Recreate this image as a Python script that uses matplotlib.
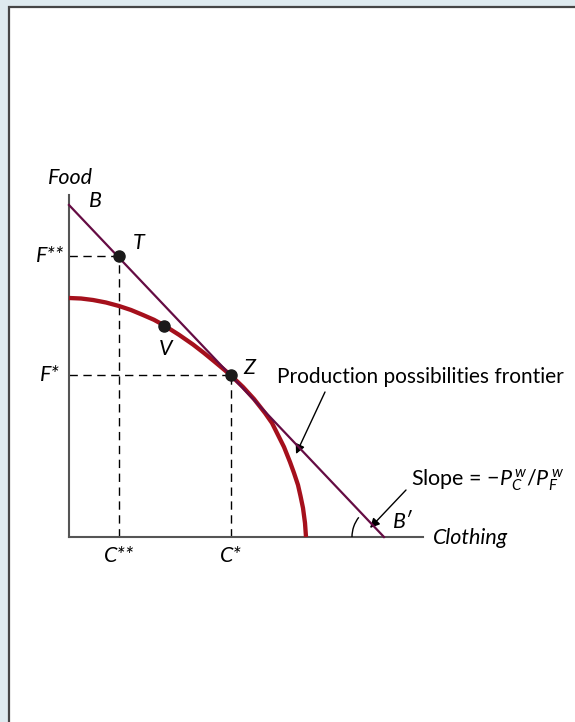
import matplotlib.pyplot as plt
from matplotlib.patches import Rectangle, Arc

# production possibilities frontier
ppf_clothing = [0.0, 1.2, 2.4, 3.7, 5.0, 6.2, 7.4, 8.5, 9.5, 11.0, 12.4, 13.5, 14.5, 15.4,
                16.2, 17.4, 18.5, 19.6, 20.3, 20.9, 21.5, 22.1, 22.5, 22.9, 23.15, 23.4,
                23.6, 23.7]
ppf_food = [23.9, 23.85, 23.7, 23.45, 23.1, 22.7, 22.2, 21.72, 21.17, 20.22, 19.25, 18.4,
            17.58, 16.83, 16.15, 15.0, 13.8, 12.4, 11.4, 10.2, 9.0, 7.5, 6.4, 5.2, 4.1,
            2.9, 1.4, 0.0]

# budget line B - B'
budget_clothing = [0.0, 31.5]
budget_food = [33.2, 0.0]

# labelled points
pt_names = ['T', 'V', 'Z']
pt_clothing = [5.0, 9.5, 16.2]
pt_food = [28.1, 21.1, 16.2]

red = '#a5101c'
purple = '#650c43'
axis_grey = '#555555'

plt.rcParams['font.family'] = ['Lato', 'DejaVu Sans']
plt.rcParams['mathtext.fontset'] = 'custom'
plt.rcParams['mathtext.rm'] = 'Lato'
plt.rcParams['mathtext.it'] = 'Lato:italic'

fig = plt.figure(figsize=(5.75, 7.22), dpi=100)
fig.patch.set_facecolor('#deeaef')

# white panel with dark border on the left and top
panel = Rectangle((9 / 575, -0.05), 1.2, 1.05 - 7 / 722,
                  transform=fig.transFigure, facecolor='white',
                  edgecolor='#454545', linewidth=1.6, zorder=-10)
fig.patches.append(panel)

ax = fig.add_axes([0, 0, 1, 1])
ax.set_facecolor('none')
ax.set_xlim(-6.9, 50.6)
ax.set_ylim(-18.5, 53.7)

for s in ['top', 'right']:
    ax.spines[s].set_visible(False)
ax.spines['left'].set_position(('data', 0))
ax.spines['bottom'].set_position(('data', 0))
ax.spines['left'].set_bounds(0, 34.2)
ax.spines['bottom'].set_bounds(0, 35.4)
for s in ['left', 'bottom']:
    ax.spines[s].set_color(axis_grey)
    ax.spines[s].set_linewidth(1.5)
ax.set_xticks([])
ax.set_yticks([])

# dashed guides for T and Z
for i in [0, 2]:
    ax.plot([0, pt_clothing[i]], [pt_food[i], pt_food[i]], color='black', lw=1,
            dashes=(6, 4), zorder=2)
    ax.plot([pt_clothing[i], pt_clothing[i]], [0, pt_food[i]], color='black', lw=1,
            dashes=(6, 4), zorder=2)

ax.plot(ppf_clothing, ppf_food, color=red, lw=3.1, solid_capstyle='butt',
        solid_joinstyle='round', zorder=3)
ax.plot(budget_clothing, budget_food, color=purple, lw=1.6, zorder=4)
ax.plot(pt_clothing, pt_food, 'o', color='#1a1a1a', ms=8, zorder=5)

# angle at B'
ax.add_patch(Arc((budget_clothing[1], 0), 6.4, 6.4, theta1=142, theta2=180,
                 color='black', lw=1, zorder=4))

fs = 15.5
ax.text(0.1, 35.9, 'Food', style='italic', fontsize=fs, ha='center', va='center')
ax.text(36.4, -0.1, 'Clothing', style='italic', fontsize=fs, ha='left', va='center')
ax.text(2.6, 33.6, 'B', style='italic', fontsize=fs, ha='center', va='center')
ax.text(33.4, 1.5, 'B\u2032', style='italic', fontsize=fs, ha='center', va='center')
ax.text(7.0, 29.4, 'T', style='italic', fontsize=fs, ha='center', va='center')
ax.text(9.7, 18.8, 'V', style='italic', fontsize=fs, ha='center', va='center')
ax.text(18.0, 16.9, 'Z', style='italic', fontsize=fs, ha='center', va='center')
ax.text(-0.5, pt_food[0], 'F**', style='italic', fontsize=fs, ha='right', va='center')
ax.text(-0.9, pt_food[2], 'F*', style='italic', fontsize=fs, ha='right', va='center')
ax.text(pt_clothing[0], -1.9, 'C**', style='italic', fontsize=fs, ha='center', va='center')
ax.text(pt_clothing[2], -1.9, 'C*', style='italic', fontsize=fs, ha='center', va='center')

ax.text(20.8, 16.0, 'Production possibilities frontier', fontsize=15, ha='left', va='center')
ax.annotate('', xy=(22.7, 8.3), xytext=(25.6, 14.5),
            arrowprops=dict(arrowstyle='-|>', color='black', lw=1,
                            mutation_scale=14, shrinkA=0, shrinkB=0))

ax.text(34.2, 5.7, r'Slope = $-P^{\,w}_{C}/P^{\,w}_{F}$', fontsize=fs, ha='left', va='center')
ax.annotate('', xy=(30.1, 0.9), xytext=(33.7, 4.7),
            arrowprops=dict(arrowstyle='-|>', color='black', lw=1,
                            mutation_scale=14, shrinkA=0, shrinkB=0))

fig.savefig('out.png', dpi=100, facecolor=fig.get_facecolor())
